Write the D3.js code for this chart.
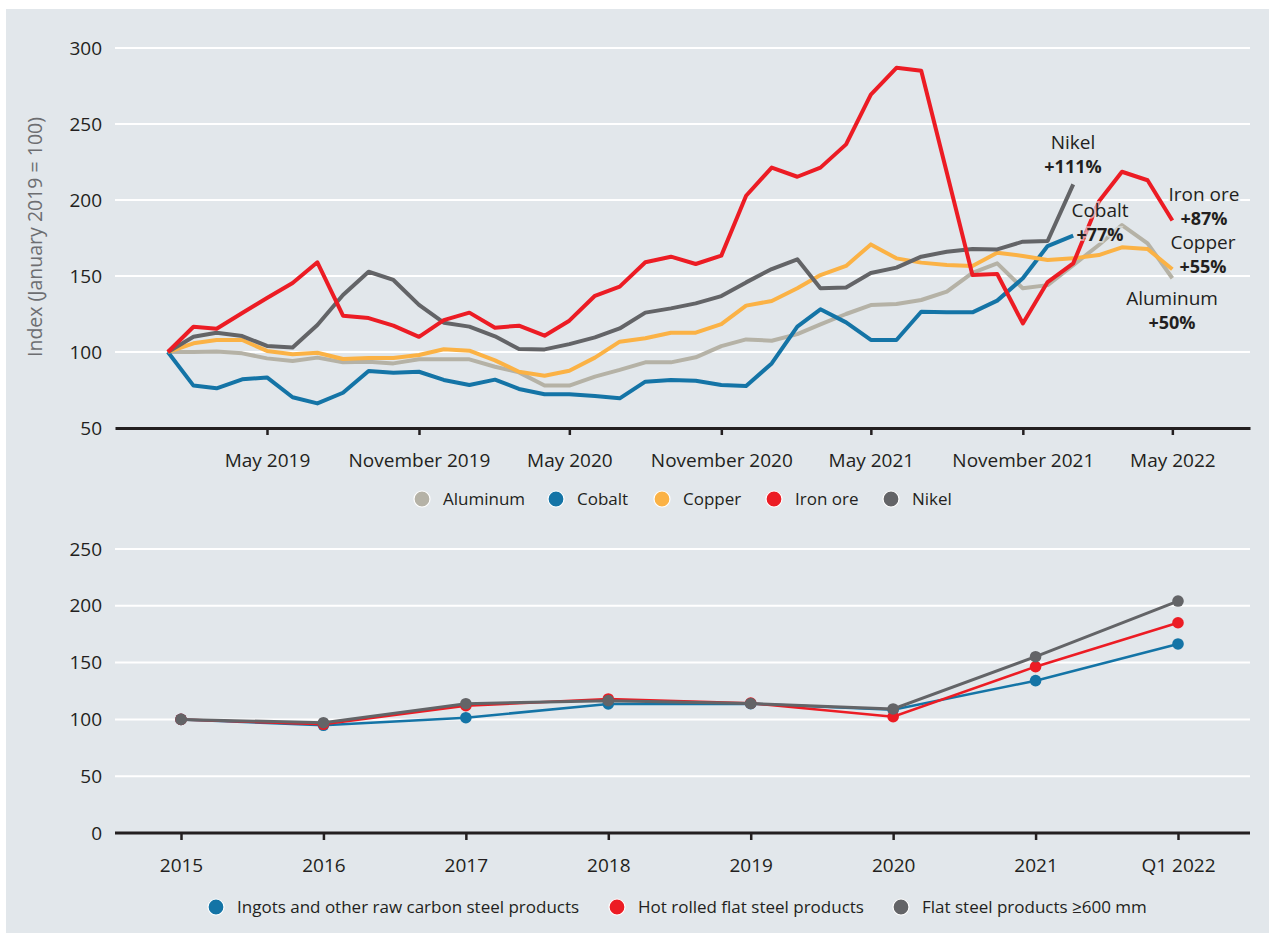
<!DOCTYPE html>
<html>
<head>
<meta charset="utf-8">
<script src="https://cdn.jsdelivr.net/npm/d3@7"></script>
<style>
  body { margin: 0; background: #fff; }
  svg { display: block; font-family: "Open Sans", sans-serif; }
</style>
</head>
<body>
<div id="container"></div>
<script>
var W = 1269, H = 933;

// top chart: monthly index, January 2019 = 100
var months = d3.timeMonth.range(new Date(2019, 0, 1), new Date(2022, 5, 1));
var aluminum = [100, 100, 100.3, 99.1, 95.8, 94.1, 96.3, 93.2, 93.6, 92.5, 95.2, 95.2,
  95.2, 90.3, 86.6, 77.9, 77.9, 83.8, 88.2, 93.2, 93.2, 96.5, 103.9, 108.3,
  107.4, 111.8, 118.2, 125, 130.9, 131.6, 134.2, 139.7, 152, 158.3, 141.9, 144,
  157.2, 170.4, 183.5, 171.5, 148.5];
var cobalt = [100, 77.9, 76.1, 82, 83.3, 70.2, 66.2, 73.2, 87.5, 86.4, 87, 81.6,
  78.3, 81.8, 75.7, 72.2, 72.2, 71, 69.5, 80.5, 81.6, 81.1, 78.3, 77.6,
  92.5, 116.7, 128.1, 119.5, 107.9, 107.9, 126.5, 126.1, 126.1, 133.8, 148.5, 169.7,
  176.5];
var copper = [100, 105.7, 107.9, 107.9, 100.7, 98.5, 99.5, 95.4, 96, 96, 98, 101.8,
  100.9, 94.5, 87, 84.4, 87.7, 96.3, 106.8, 109, 112.7, 112.7, 118.4, 130.5,
  133.6, 141.9, 150.6, 156.6, 170.8, 161.6, 158.8, 157.2, 156.6, 165.3, 163.2, 160.5,
  161.6, 163.8, 168.9, 167.8, 154.4];
var ironOre = [100, 116.6, 115.3, 125.7, 135.5, 145.4, 159, 123.9, 122.3, 117.3, 110, 121,
  125.9, 116, 117.3, 110.7, 120.6, 137, 143, 159, 162.7, 157.9, 163.4, 202.8,
  221.3, 215.3, 221.3, 236.6, 269.3, 287, 285, 218, 150.6, 151.3, 118.8, 146,
  158.3, 199, 218.6, 213, 186.5];
var nikel = [100, 110, 112.7, 110.5, 104, 103, 117.8, 137.5, 152.8, 147.4, 131, 119.3,
  116.7, 110.3, 102, 101.7, 105.2, 109.6, 115.5, 125.9, 128.7, 132, 136.8, 145.8,
  154.6, 161, 141.9, 142.5, 152, 155.5, 162.7, 166, 167.8, 167.5, 172.6, 173,
  210.3];
var topTicks = ["2019-05", "2019-11", "2020-05", "2020-11", "2021-05", "2021-11", "2022-05"];
var topYTicks = [50, 100, 150, 200, 250, 300];

var metals = [
  {name: "Aluminum", values: aluminum, color: "#b5b2a6", change: "+50%"},
  {name: "Cobalt", values: cobalt, color: "#1474a6", change: "+77%"},
  {name: "Copper", values: copper, color: "#fbb245", change: "+55%"},
  {name: "Nikel", values: nikel, color: "#636467", change: "+111%"},
  {name: "Iron ore", values: ironOre, color: "#ec1c24", change: "+87%"}
];
var legendOrder = ["Aluminum", "Cobalt", "Copper", "Iron ore", "Nikel"];

// bottom chart: yearly steel price index
var years = ["2015", "2016", "2017", "2018", "2019", "2020", "2021", "Q1 2022"];
var ingots = [100, 94.8, 101.5, 113.6, 113.8, 108.5, 134.1, 166.4];
var hotRolled = [100, 95.7, 112, 118, 114.3, 102.4, 146.4, 185.1];
var flatSteel = [100, 97.1, 113.8, 116.5, 114, 109.2, 155.2, 204.2];
var bottomYTicks = [0, 50, 100, 150, 200, 250];

var steel = [
  {name: "Ingots and other raw carbon steel products", values: ingots, color: "#1474a6", width: 2.5},
  {name: "Hot rolled flat steel products", values: hotRolled, color: "#ec1c24", width: 2.5},
  {name: "Flat steel products \u2265600 mm", values: flatSteel, color: "#636467", width: 3}
];

var bg = "#e2e7eb", ink = "#231f20";

var svg = d3.select("#container").append("svg")
    .attr("width", W).attr("height", H);

svg.append("rect")
    .attr("x", 6).attr("y", 9).attr("width", W - 6).attr("height", H - 9)
    .attr("fill", bg);

var left = 115, right = 1250;

// ---------- top chart ----------
var x = d3.scaleTime()
    .domain([new Date(2018, 9, 29), new Date(2022, 7, 3)])
    .range([left, right]);
var y = d3.scaleLinear().domain([50, 300]).range([428, 48]);

var gTop = svg.append("g");

gTop.selectAll(".grid")
    .data(topYTicks.slice(1))
    .enter().append("line")
    .attr("x1", left).attr("x2", right)
    .attr("y1", d => y(d)).attr("y2", d => y(d))
    .attr("stroke", "#fff").attr("stroke-width", 2);

gTop.selectAll(".ylab")
    .data(topYTicks)
    .enter().append("text")
    .attr("x", 102).attr("y", d => y(d))
    .attr("dy", "0.35em")
    .attr("text-anchor", "end")
    .attr("font-size", 19).attr("fill", ink)
    .text(d => d);

svg.append("text")
    .attr("transform", "translate(42,237) rotate(-90)")
    .attr("text-anchor", "middle")
    .attr("font-size", 19.5).attr("fill", "#6d6e71")
    .text("Index (January 2019 = 100)");

var parseMonth = d3.timeParse("%Y-%m");
var xAxis = d3.axisBottom(x)
    .tickValues(topTicks.map(parseMonth))
    .tickFormat(d3.timeFormat("%B %Y"))
    .tickSize(7).tickSizeOuter(0).tickPadding(19);

var gx = gTop.append("g").attr("transform", "translate(0,428)").call(xAxis);
gx.select(".domain").attr("stroke", ink).attr("stroke-width", 3);
gx.selectAll(".tick line").attr("stroke", ink).attr("stroke-width", 2.5);
gx.selectAll(".tick text").attr("font-size", 19).attr("fill", ink)
    .attr("font-family", "Open Sans, sans-serif");

var line = d3.line()
    .x((d, i) => x(months[i]))
    .y(d => y(d));

gTop.selectAll(".metal")
    .data(metals)
    .enter().append("path")
    .attr("d", d => line(d.values))
    .attr("fill", "none")
    .attr("stroke", d => d.color)
    .attr("stroke-width", 4)
    .attr("stroke-linejoin", "round");

// end labels
var endLabels = [
  {name: "Nikel", x: 1073, y: 142},
  {name: "Iron ore", x: 1204, y: 194},
  {name: "Cobalt", x: 1100, y: 210},
  {name: "Copper", x: 1203, y: 242},
  {name: "Aluminum", x: 1172, y: 298}
];
endLabels.forEach(function(l) {
  var m = metals.find(d => d.name === l.name);
  var t = gTop.append("text")
      .attr("x", l.x).attr("y", l.y)
      .attr("text-anchor", "middle")
      .attr("font-size", 19).attr("fill", ink)
      .attr("stroke", bg).attr("stroke-width", 4).attr("stroke-opacity", 0.6)
      .attr("paint-order", "stroke");
  t.append("tspan").attr("x", l.x).attr("dy", "0.35em").text(l.name);
  t.append("tspan").attr("x", l.x).attr("dy", 24)
      .attr("font-weight", "bold").attr("font-size", 18).text(m.change);
});

// top legend
var legendX = [422, 556, 662, 774, 891];
var lg = gTop.selectAll(".lg")
    .data(legendOrder)
    .enter().append("g")
    .attr("transform", (d, i) => "translate(" + legendX[i] + ",499)");
lg.append("circle").attr("r", 8)
    .attr("fill", d => metals.find(m => m.name === d).color)
    .attr("stroke", "#fff").attr("stroke-width", 1.2);
lg.append("text").attr("x", 21).attr("dy", "0.35em")
    .attr("font-size", 17).attr("fill", ink)
    .text(d => d);

// ---------- bottom chart ----------
var x2 = d3.scalePoint().domain(years).range([181, 1178]);
var y2 = d3.scaleLinear().domain([0, 250]).range([833, 549]);

var gBot = svg.append("g");

gBot.selectAll(".grid2")
    .data(bottomYTicks.slice(1))
    .enter().append("line")
    .attr("x1", left).attr("x2", right)
    .attr("y1", d => y2(d)).attr("y2", d => y2(d))
    .attr("stroke", "#fff").attr("stroke-width", 2);

gBot.selectAll(".ylab2")
    .data(bottomYTicks)
    .enter().append("text")
    .attr("x", 102).attr("y", d => y2(d))
    .attr("dy", "0.35em")
    .attr("text-anchor", "end")
    .attr("font-size", 19).attr("fill", ink)
    .text(d => d);

var xAxis2 = d3.axisBottom(x2).tickSize(7).tickSizeOuter(0).tickPadding(19);
var gx2 = gBot.append("g").attr("transform", "translate(0,833)").call(xAxis2);
gx2.select(".domain").attr("d", "M" + left + ",0H" + right)
    .attr("stroke", ink).attr("stroke-width", 3);
gx2.selectAll(".tick line").attr("stroke", ink).attr("stroke-width", 2.5);
gx2.selectAll(".tick text").attr("font-size", 19).attr("fill", ink)
    .attr("font-family", "Open Sans, sans-serif");

var line2 = d3.line()
    .x((d, i) => x2(years[i]))
    .y(d => y2(d));

var sg = gBot.selectAll(".steel")
    .data(steel)
    .enter().append("g");
sg.append("path")
    .attr("d", d => line2(d.values))
    .attr("fill", "none")
    .attr("stroke", d => d.color)
    .attr("stroke-width", d => d.width);
sg.selectAll("circle")
    .data(d => d.values.map(v => ({v: v, color: d.color})))
    .enter().append("circle")
    .attr("cx", (d, i) => x2(years[i]))
    .attr("cy", d => y2(d.v))
    .attr("r", 5.8)
    .attr("fill", d => d.color);

// bottom legend
var legend2X = [216, 617, 901];
var lg2 = gBot.selectAll(".lg2")
    .data(steel)
    .enter().append("g")
    .attr("transform", (d, i) => "translate(" + legend2X[i] + ",907)");
lg2.append("circle").attr("r", 8)
    .attr("fill", d => d.color)
    .attr("stroke", "#fff").attr("stroke-width", 1.2);
lg2.append("text").attr("x", 21).attr("dy", "0.35em")
    .attr("font-size", 17).attr("fill", ink)
    .text(d => d.name);
</script>
</body>
</html>
